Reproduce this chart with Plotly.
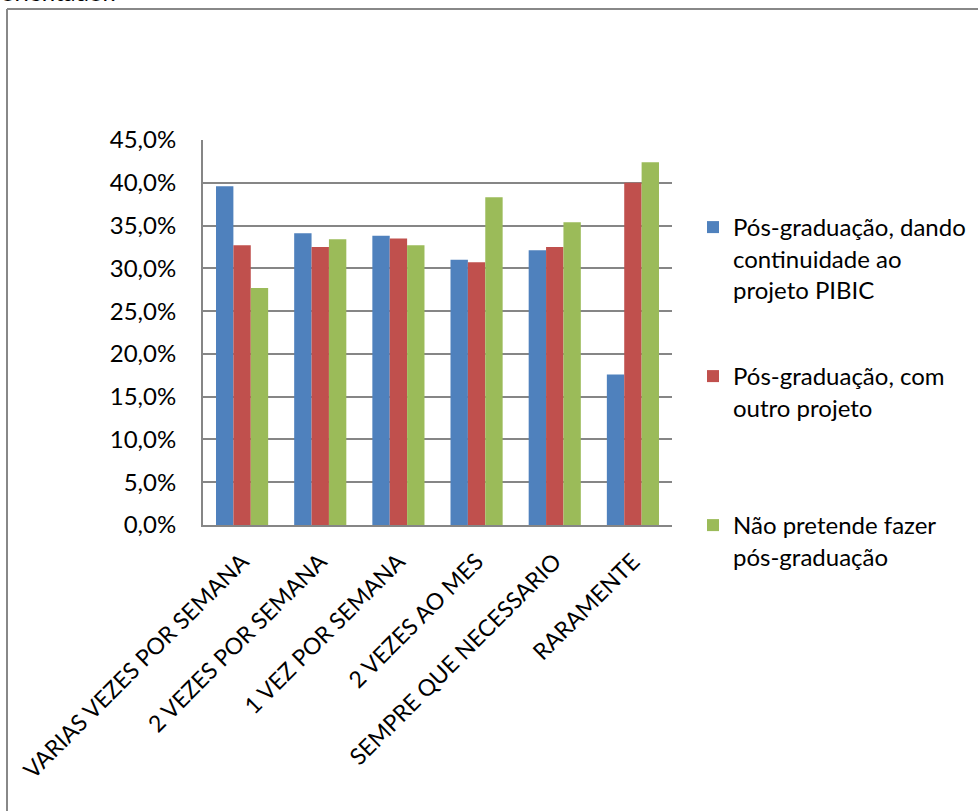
import plotly.graph_objects as go

categories = ["VARIAS VEZES POR SEMANA", "2 VEZES POR SEMANA", "1 VEZ POR SEMANA",
              "2 VEZES AO MES", "SEMPRE QUE NECESSARIO", "RARAMENTE"]
series_names = ["Pós-graduação, dando<br>continuidade ao<br>projeto PIBIC",
                "Pós-graduação, com<br>outro projeto",
                "Não pretende fazer<br>pós-graduação"]
pos_pibic = [39.6, 34.1, 33.8, 31.0, 32.1, 17.6]
pos_outro = [32.7, 32.5, 33.5, 30.7, 32.5, 40.0]
nao_pretende = [27.7, 33.4, 32.7, 38.3, 35.4, 42.4]
colors = ["#4F81BD", "#C0504D", "#9BBB59"]

FONT = "Lato"
W, H = 978, 811
L, R, T, B = 203, 306, 140, 286
PW, PH = W - L - R, H - T - B

def px_x(p):
    return (p - L) / PW

def px_y(p):
    return 1 - (p - T) / PH

fig = go.Figure()
legend_ids = ["legend", "legend2", "legend3"]
for name, vals, col, lg in zip(series_names, [pos_pibic, pos_outro, nao_pretende], colors, legend_ids):
    fig.add_trace(go.Bar(x=categories, y=vals, name=name, marker=dict(color=col, line=dict(width=0)),
                         legend=lg, showlegend=True))

leg_common = dict(font=dict(family=FONT, size=24, color="black"), valign="top",
                  bgcolor="rgba(0,0,0,0)", xanchor="left", yanchor="top", itemwidth=30,
                  tracegroupgap=0)
fig.update_layout(
    width=W, height=H,
    margin=dict(l=L, r=R, t=T, b=B, autoexpand=False),
    paper_bgcolor="white", plot_bgcolor="white",
    separators=",.",
    showlegend=True,
    barmode="group", bargap=0.333, bargroupgap=0,
    font=dict(family=FONT, size=22, color="black"),
    legend=dict(x=px_x(693), y=px_y(205), **leg_common),
    legend2=dict(x=px_x(693), y=px_y(354), **leg_common),
    legend3=dict(x=px_x(693), y=px_y(503), **leg_common),
    xaxis=dict(tickangle=-45, showline=True, linecolor="#868686", linewidth=2,
               tickfont=dict(family=FONT, size=23, color="black"), ticks="",
               ticklabelstandoff=12),
    yaxis=dict(range=[0, 45], dtick=5, tickformat=".1f", ticksuffix="%",
               showgrid=True, gridcolor="#868686", gridwidth=1.5,
               showline=True, linecolor="#868686", linewidth=2,
               tickfont=dict(family=FONT, size=24, color="black"), ticks="",
               ticklabelstandoff=20, zeroline=False),
)
# outer frame (top and left edges visible)
fig.add_shape(type="line", xref="paper", yref="paper", x0=px_x(7), x1=px_x(990),
              y0=px_y(9), y1=px_y(9), line=dict(color="#888888", width=2))
fig.add_shape(type="line", xref="paper", yref="paper", x0=px_x(7), x1=px_x(7),
              y0=px_y(9), y1=px_y(830), line=dict(color="#888888", width=2))
# cut-off text from the page above
fig.add_annotation(text="orientador.", xref="paper", yref="paper", x=px_x(-1), y=px_y(8),
                   xanchor="left", yanchor="bottom", showarrow=False,
                   font=dict(family=FONT, size=24, color="black"))

fig.write_html("out.html", config={"displayModeBar": False},
               post_script="document.body.style.margin='0';")
